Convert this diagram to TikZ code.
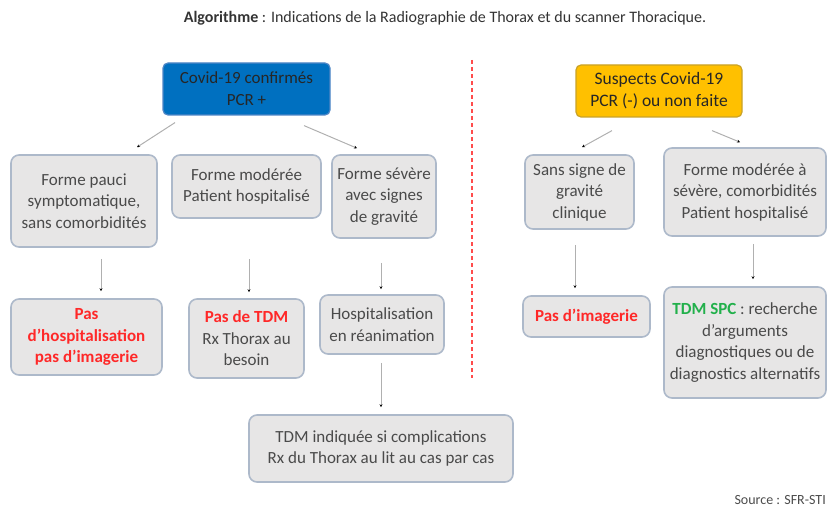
\documentclass[tikz,border=0pt]{standalone}
\usepackage{fontspec}
\setmainfont{Carlito}
\usetikzlibrary{arrows.meta}
\definecolor{boxfill}{HTML}{E7E6E6}
\definecolor{boxline}{HTML}{ADB9CA}
\definecolor{bluefill}{HTML}{0070C0}
\definecolor{blueline}{HTML}{4F86C6}
\definecolor{yelfill}{HTML}{FFC000}
\definecolor{yelline}{HTML}{C9A227}
\definecolor{txtgray}{HTML}{4A4A4A}
\definecolor{redtxt}{HTML}{FF2828}
\definecolor{greentxt}{HTML}{22B04B}
\definecolor{arrgray}{HTML}{B0B0B0}
\tikzset{
  gbox/.style={draw=boxline, line width=1.6pt, fill=boxfill, rounded corners=8pt,
    align=center, text=txtgray, inner sep=1pt,
    font=\fontsize{17}{21.5}\selectfont},
  topblue/.style={draw=blueline, line width=1.2pt, fill=bluefill, rounded corners=5pt,
    align=center, text=black!85, font=\fontsize{17}{22}\selectfont},
  topyel/.style={draw=yelline, line width=1.2pt, fill=yelfill, rounded corners=5pt,
    align=center, text=black!85, font=\fontsize{17.5}{22}\selectfont},
  conn/.style={draw=arrgray, line width=1pt, -{Stealth[length=3pt,width=3pt,black]}},
}
\begin{document}
\begin{tikzpicture}[x=1pt,y=-1pt]
\useasboundingbox (0,0) rectangle (827,508);

\node (title) at (445,18) {\fontsize{16}{18}\selectfont\color{black!80}\textbf{Algorithme} : Indications de la Radiographie de Thorax et du scanner Thoracique.};

\node[topblue, minimum width=167pt, minimum height=52pt] (blue) at (246.5,89) {Covid-19 confirmés\\PCR +};
\node[topyel, minimum width=166pt, minimum height=52pt] (yel) at (659,91) {Suspects Covid-19\\PCR (-) ou non faite};

\draw[red!70, line width=1.2pt, dash pattern=on 4pt off 3pt] (472,60) coordinate (dtop) -- (472,378) coordinate (dbot);

% row 2
\node[gbox, minimum width=146pt, minimum height=92pt] (A) at (84,201) {Forme pauci\\symptomatique,\\sans comorbidités};
\node[gbox, minimum width=149pt, minimum height=63pt] (B) at (246.5,186.5) {Forme modérée\\Patient hospitalisé};
\node[gbox, minimum width=104pt, minimum height=83pt] (C) at (384,196.5) {Forme sévère\\avec signes\\de gravité};
\node[gbox, minimum width=109pt, minimum height=74pt] (D) at (579.5,192) {Sans signe de\\gravité\\clinique};
\node[gbox, minimum width=162pt, minimum height=88pt] (E) at (745,192) {Forme modérée à\\sévère, comorbidités\\Patient hospitalisé};

% row 3
\node[gbox, minimum width=151pt, minimum height=76pt, text=redtxt, font=\fontsize{17}{21.5}\selectfont\bfseries] (R1) at (86.5,337) {Pas\\d'hospitalisation\\pas d'imagerie};
\node[gbox, minimum width=115pt, minimum height=79pt] (R2) at (246.5,338.5) {{\color{redtxt}\bfseries Pas de TDM}\\Rx Thorax au\\besoin};
\node[gbox, minimum width=124pt, minimum height=59pt] (R3) at (382,324.5) {Hospitalisation\\en réanimation};
\node[gbox, minimum width=127pt, minimum height=41pt, text=redtxt, font=\fontsize{17}{21.5}\selectfont\bfseries] (R4) at (586.5,316.5) {Pas d'imagerie};
\node[gbox, minimum width=162pt, minimum height=111pt] (R5) at (745,342.5) {{\color{greentxt}\bfseries TDM SPC} : recherche\\d'arguments\\diagnostiques ou de\\diagnostics alternatifs};

% row 4
\node[gbox, minimum width=264pt, minimum height=67pt] (R6) at (381,448.5) {TDM indiquée si complications\\Rx du Thorax au lit au cas par cas};

\node[anchor=east, inner sep=0pt] (src) at (826,500) {\fontsize{14}{16}\selectfont\color{black!70}Source : SFR-STI};

% connectors
\draw[conn] ([xshift=-71.5pt,yshift=-7pt]blue.south) -- ([xshift=53pt,yshift=7pt]A.north);
\draw[conn] ([xshift=57.5pt,yshift=-10pt]blue.south) -- ([xshift=-27pt,yshift=6pt]C.north);
\draw[conn] ([xshift=-47pt,yshift=-13pt]yel.south) -- ([xshift=2.5pt,yshift=7pt]D.north);
\draw[conn] ([xshift=53pt,yshift=-13pt]yel.south) -- ([xshift=-5pt,yshift=5pt]E.north);

\draw[conn] ([xshift=17pt,yshift=-11pt]A.south) -- ([xshift=14.5pt,yshift=7pt]R1.north);
\draw[conn] ([xshift=2.5pt,yshift=-40pt]B.south) -- ([xshift=2.5pt,yshift=6pt]R2.north);
\draw[conn] ([xshift=-3pt,yshift=-24pt]C.south) -- ([xshift=-1pt,yshift=5pt]R3.north);
\draw[conn] ([xshift=-4.5pt,yshift=-15pt]D.south) -- ([xshift=-11.5pt,yshift=7pt]R4.north);
\draw[conn] ([xshift=8pt,yshift=-7pt]E.south) -- ([xshift=8pt,yshift=7pt]R5.north);
\draw[conn] ([xshift=-1pt,yshift=-8pt]R3.south) -- ([xshift=0pt,yshift=7pt]R6.north);
\end{tikzpicture}
\end{document}
